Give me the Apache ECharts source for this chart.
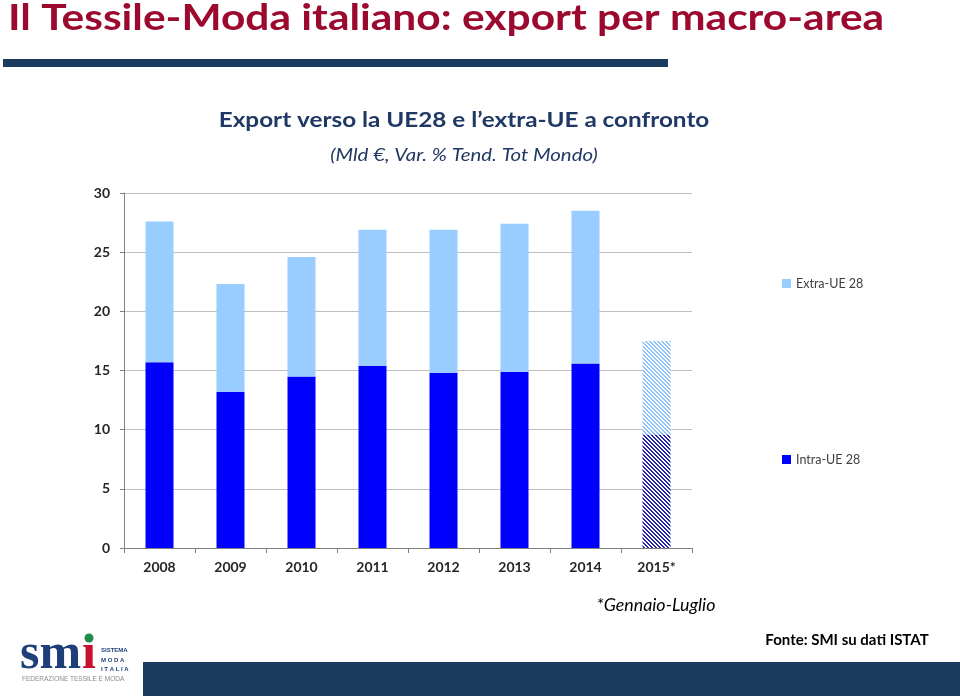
<!DOCTYPE html>
<html>
<head>
<meta charset="utf-8">
<script src="https://cdn.jsdelivr.net/npm/echarts@6/dist/echarts.min.js"></script>
<style>
  html, body { margin: 0; padding: 0; background: #fff; }
  #chart { width: 960px; height: 696px; }
</style>
</head>
<body>
<div id="chart"></div>
<script>
// ---- data ----
const categories = ['2008', '2009', '2010', '2011', '2012', '2013', '2014', '2015*'];
const intraUE = [15.7, 13.2, 14.5, 15.4, 14.8, 14.9, 15.6, 9.6];
const extraUE = [11.9, 9.1, 10.1, 11.5, 12.1, 12.5, 12.9, 7.9];
const yTicks = [0, 5, 10, 15, 20, 25, 30];
const seriesNames = ['Intra-UE 28', 'Extra-UE 28'];

// ---- styles ----
const INTRA = '#0000FF';
const EXTRA = '#99CCFF';
const NAVY = '#1F3864';
const FONT = 'Lato, "Open Sans", sans-serif';

function hatch(color) {
  const c = document.createElement('canvas');
  c.width = 4; c.height = 4;
  const ctx = c.getContext('2d');
  ctx.fillStyle = '#ffffff';
  ctx.fillRect(0, 0, 4, 4);
  ctx.fillStyle = color;
  for (let x = 0; x < 4; x++) {
    for (let y = 0; y < 4; y++) {
      if ((((x - y) % 4) + 4) % 4 < 2) ctx.fillRect(x, y, 1, 1);
    }
  }
  return { image: c, repeat: 'repeat' };
}

const lastIdx = categories.length - 1;
function buildData(values, patternColor) {
  return values.map((v, i) => i === lastIdx
    ? { value: v, itemStyle: { color: hatch(patternColor) } }
    : v);
}

const legendText = { fontFamily: FONT, fontSize: 12.5, color: '#404040' };

const chart = echarts.init(document.getElementById('chart'), null, { renderer: 'canvas' });
chart.setOption({
  animation: false,
  backgroundColor: '#ffffff',
  grid: { left: 124, right: 268, top: 193, bottom: 148 },
  legend: [
    {
      data: [seriesNames[1]], left: 777, top: 272, orient: 'vertical',
      itemWidth: 9, itemHeight: 9, itemGap: 5, icon: 'rect', textStyle: legendText
    },
    {
      data: [seriesNames[0]], left: 777, top: 448, orient: 'vertical',
      itemWidth: 9, itemHeight: 9, itemGap: 5, icon: 'rect', textStyle: legendText
    }
  ],
  xAxis: {
    type: 'category',
    data: categories,
    axisLine: { lineStyle: { color: '#808080', width: 1 } },
    axisTick: { show: true, length: 5, lineStyle: { color: '#808080' } },
    axisLabel: { margin: 12, fontFamily: FONT, fontWeight: 'bold', fontSize: 14, color: '#262626' }
  },
  yAxis: {
    type: 'value',
    min: yTicks[0], max: yTicks[yTicks.length - 1], interval: 5,
    axisLine: { show: true, lineStyle: { color: '#808080', width: 1 } },
    axisTick: { show: true, length: 4, lineStyle: { color: '#808080' } },
    splitLine: { lineStyle: { color: '#BFBFBF', width: 1 } },
    axisLabel: { margin: 14, fontFamily: FONT, fontWeight: 'bold', fontSize: 14, color: '#262626' }
  },
  series: [
    {
      name: seriesNames[0], type: 'bar', stack: 'tot', barWidth: 28,
      itemStyle: { color: INTRA },
      data: buildData(intraUE, '#2424A8')
    },
    {
      name: seriesNames[1], type: 'bar', stack: 'tot', barWidth: 28,
      itemStyle: { color: EXTRA },
      data: buildData(extraUE, '#8FC3F5')
    }
  ],
  graphic: [
    { type: 'text', x: 8, y: 0, scaleX: 1.18, style: { text: 'Il Tessile-Moda italiano: export per macro-area', font: 'bold 36px ' + FONT, fill: '#9B0A2E' } },
    { type: 'rect', shape: { x: 3, y: 59, width: 665, height: 8 }, style: { fill: '#1C3A5E' } },
    { type: 'text', x: 464, y: 120, scaleX: 1.156, style: { text: 'Export verso la UE28 e l’extra-UE a confronto', font: 'bold 21px ' + FONT, fill: NAVY, align: 'center', verticalAlign: 'middle' } },
    { type: 'text', x: 464, y: 156, scaleX: 1.2, style: { text: '(Mld €, Var. % Tend. Tot Mondo)', font: 'italic 17px ' + FONT, fill: NAVY, align: 'center', verticalAlign: 'middle' } },
    { type: 'text', x: 656, y: 606, scaleX: 1.05, style: { text: '*Gennaio-Luglio', font: 'italic 17px ' + FONT, fill: '#000', align: 'center', verticalAlign: 'middle' } },
    { type: 'text', x: 847, y: 640, style: { text: 'Fonte: SMI su dati ISTAT', font: 'bold 15px ' + FONT, fill: '#000', align: 'center', verticalAlign: 'middle' } },
    { type: 'rect', shape: { x: 143, y: 662, width: 817, height: 34 }, style: { fill: '#1C3A5E' } },
    // logo
    { type: 'text', x: 20, y: 655, style: { text: 'sm', font: 'bold 50px "Liberation Serif", serif', fill: '#1F3F7A', verticalAlign: 'middle' } },
    { type: 'text', x: 82, y: 655, style: { text: 'ı', font: 'bold 50px "Liberation Serif", serif', fill: '#C8102E', verticalAlign: 'middle' } },
    { type: 'circle', shape: { cx: 89, cy: 638, r: 4.5 }, style: { fill: '#1E8A4C' } },
    { type: 'text', x: 101, y: 650, style: { text: 'SISTEMA', font: 'bold 6px "Liberation Sans", sans-serif', fill: '#1F3F7A', verticalAlign: 'middle' } },
    { type: 'text', x: 101, y: 660, style: { text: 'M O D A', font: 'bold 6px "Liberation Sans", sans-serif', fill: '#1F3F7A', verticalAlign: 'middle' } },
    { type: 'text', x: 101, y: 669, style: { text: 'I T A L I A', font: 'bold 6px "Liberation Sans", sans-serif', fill: '#1F3F7A', verticalAlign: 'middle' } },
    { type: 'text', x: 22, y: 679, style: { text: 'FEDERAZIONE TESSILE E MODA', font: '6.5px "Liberation Sans", sans-serif', fill: '#8A8A8A', verticalAlign: 'middle' } }
  ]
});
</script>
</body>
</html>
